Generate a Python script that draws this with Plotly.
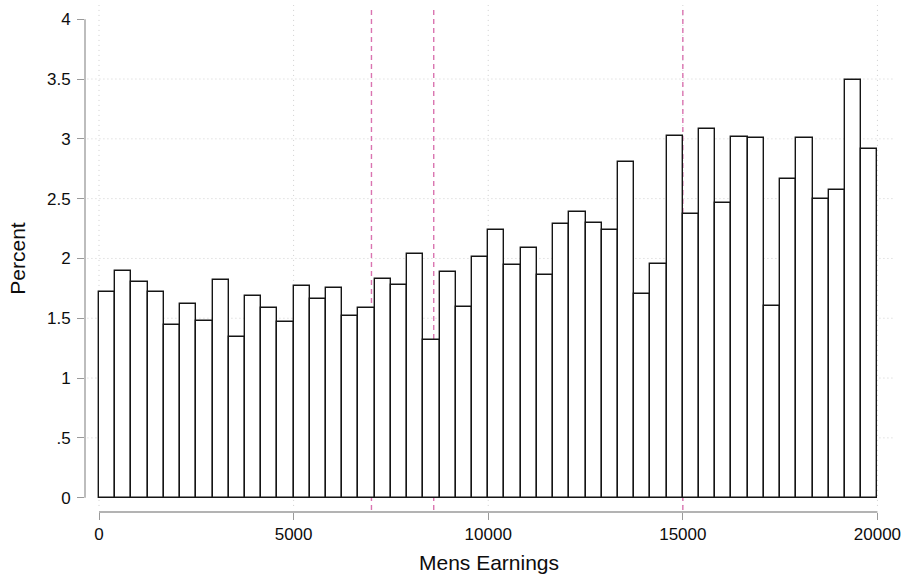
import numpy as np
import plotly.graph_objects as go

# Histogram of men's earnings: percent of observations in each of 48 equal-width bins
bin_start = 0
bin_end = 20000
percent = [
    1.722, 1.896, 1.801, 1.717, 1.444, 1.619, 1.480, 1.818, 1.346, 1.686, 1.589, 1.470,
    1.773, 1.659, 1.753, 1.519, 1.583, 1.831, 1.778, 2.040, 1.316, 1.887, 1.592, 2.008,
    2.238, 1.943, 2.088, 1.862, 2.286, 2.386, 2.294, 2.236, 2.809, 1.703, 1.951, 3.024,
    2.370, 3.085, 2.467, 3.018, 3.010, 1.603, 2.667, 3.008, 2.500, 2.573, 3.490, 2.918,
]
# Reference lines on earnings
ref_lines = [7000, 8600, 15000]

x_ticks = [0, 5000, 10000, 15000, 20000]
x_ticktext = ["0", "5000", "10000", "15000", "20000"]
y_ticks = [0, 0.5, 1, 1.5, 2, 2.5, 3, 3.5, 4]
y_ticktext = ["0", ".5", "1", "1.5", "2", "2.5", "3", "3.5", "4"]

n_bins = len(percent)
bin_width = (bin_end - bin_start) / n_bins
centers = bin_start + bin_width * (np.arange(n_bins) + 0.5)

FONT = "Liberation Sans, Arial, Helvetica, sans-serif"
AXIS_GRAY = "#9a9a9a"
GRID_GRAY = "#cfcfcf"
REF_PINK = "rgb(218,116,176)"

fig = go.Figure()
fig.add_trace(go.Bar(
    x=centers,
    y=percent,
    width=bin_width,
    marker=dict(color="white", line=dict(color="#151515", width=1.4)),
    hoverinfo="x+y",
    showlegend=False,
))

shapes = []
# dotted horizontal gridlines
for v in y_ticks[1:-1]:
    shapes.append(dict(type="line", xref="paper", x0=0.003, x1=1, yref="y", y0=v, y1=v,
                       line=dict(color=GRID_GRAY, width=1, dash="1px,3px"), layer="below"))
# dotted vertical gridlines
for v in x_ticks:
    shapes.append(dict(type="line", xref="x", x0=v, x1=v, yref="paper", y0=0.012, y1=1,
                       line=dict(color=GRID_GRAY, width=1, dash="1px,4px"), layer="below"))
# dashed reference lines (behind the bars)
for v in ref_lines:
    shapes.append(dict(type="line", xref="x", x0=v, x1=v, yref="paper", y0=0.004, y1=0.995,
                       line=dict(color=REF_PINK, width=1.4, dash="5px,4px"), layer="between"))
# axis lines spanning only the labelled range
shapes.append(dict(type="line", xref="x", x0=x_ticks[0], x1=x_ticks[-1], yref="paper", y0=0, y1=0,
                   line=dict(color=AXIS_GRAY, width=1.3), layer="above"))
shapes.append(dict(type="line", xref="paper", x0=0, x1=0, yref="y", y0=y_ticks[0], y1=y_ticks[-1],
                   line=dict(color=AXIS_GRAY, width=1.3), layer="above"))

fig.update_layout(
    width=908, height=581,
    margin=dict(l=85, r=15, t=5, b=69),
    paper_bgcolor="white", plot_bgcolor="white",
    bargap=0,
    font=dict(family=FONT, color="#0d0d0d", size=17),
    shapes=shapes,
    xaxis=dict(
        range=[-360, 20400],
        tickvals=x_ticks, ticktext=x_ticktext,
        ticks="outside", ticklen=7, tickwidth=1.2, tickcolor=AXIS_GRAY,
        ticklabelstandoff=0,
        showgrid=False, showline=False, zeroline=False,
        tickfont=dict(size=17),
        title=dict(text="Mens Earnings", font=dict(size=21), standoff=11),
    ),
    yaxis=dict(
        range=[-0.12, 4.119],
        tickvals=y_ticks, ticktext=y_ticktext,
        ticks="outside", ticklen=7, tickwidth=1.2, tickcolor=AXIS_GRAY,
        ticklabelstandoff=3,
        showgrid=False, showline=False, zeroline=False,
        tickfont=dict(size=17),
        title=dict(text="Percent", font=dict(size=21), standoff=15),
    ),
)

fig.write_html("out.html")
